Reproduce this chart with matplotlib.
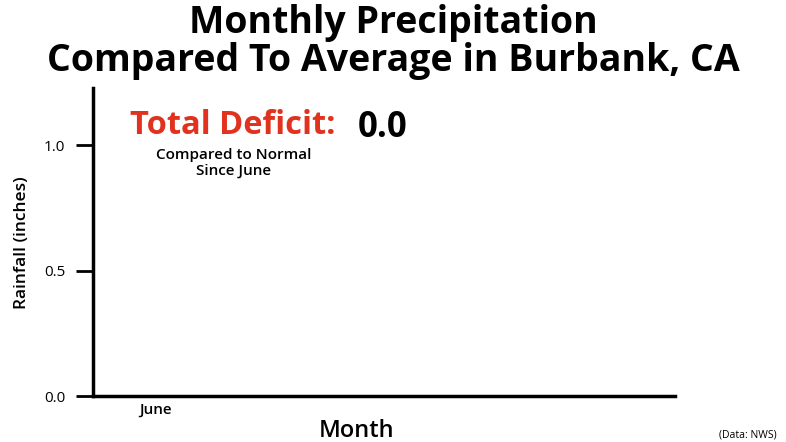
import numpy as np
import matplotlib
matplotlib.use("Agg")
import matplotlib.pyplot as plt

# data (first frame: only June so far)
months = ["June"]
actual_rain = [0.0]
normal_rain = [0.0]
y_ticks = [0.0, 0.5, 1.0]

deficit = sum(actual_rain) - sum(normal_rain)

plt.rcParams['font.family'] = ['Open Sans', 'DejaVu Sans']

fig = plt.figure(figsize=(7.86, 4.42), dpi=100)
# axes box in pixels: left 93, right 675, bottom 396, top 88
ax = fig.add_axes([93/786, 1 - 396/442, (675-93)/786, (396-88)/442])

x = np.arange(len(months))
ax.bar(x - 0.2, normal_rain, width=0.4, color="#9e9e9e")
ax.bar(x + 0.2, actual_rain, width=0.4, color="#3a7bd5")

ax.set_xlim(-1.28, 10.72)
ax.set_ylim(0, 1.228)
ax.set_xticks(x)
ax.set_xticklabels(months, fontsize=11, fontweight='semibold')
ax.tick_params(axis='x', length=0, pad=5)
ax.set_yticks(y_ticks)
ax.set_yticklabels(["{:.1f}".format(v) for v in y_ticks], fontsize=11)
ax.tick_params(axis='y', length=12, width=2, pad=8)

for s in ['top', 'right']:
    ax.spines[s].set_visible(False)
for s in ['left', 'bottom']:
    ax.spines[s].set_linewidth(2.5)

fig.text(0.5, 1 - 23/442, "Monthly Precipitation", ha='center', va='center',
         fontsize=27, fontweight='bold')
fig.text(0.5, 1 - 61/442, "Compared To Average in Burbank, CA", ha='center', va='center',
         fontsize=27, fontweight='bold')

fig.text(22/786, 1 - 243/442, "Rainfall (inches)", rotation=90, ha='center', va='center',
         fontsize=12.5, fontweight='semibold')
fig.text(357/786, 1 - 431/442, "Month", ha='center', va='center', fontsize=17,
         fontweight='semibold')
fig.text(748/786, 1 - 435/442, "(Data: NWS)", ha='center', va='center', fontsize=7.5)

fig.text(130/786, 1 - 126/442, "Total Deficit:", ha='left', va='center',
         fontsize=23.5, fontweight='bold', color="#e0321e")
fig.text(358/786, 1 - 128/442, "{:.1f}".format(abs(deficit)), ha='left', va='center',
         fontsize=25, fontweight='bold', color="black")
fig.text(234/786, 1 - 155/442, "Compared to Normal", ha='center', va='center', fontsize=11,
         fontweight='semibold')
fig.text(234/786, 1 - 171/442, "Since June", ha='center', va='center', fontsize=11,
         fontweight='semibold')

fig.savefig("out.png", dpi=100)
